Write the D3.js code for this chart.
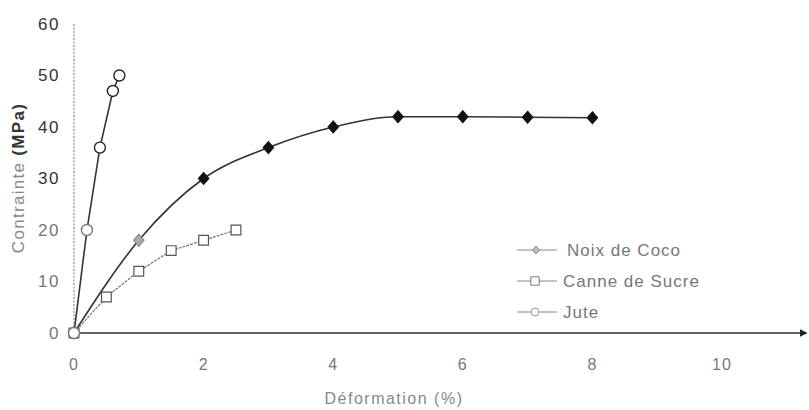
<!DOCTYPE html>
<html>
<head>
<meta charset="utf-8">
<script src="https://cdn.jsdelivr.net/npm/d3@7"></script>
<style>
    body { margin: 0; background: white; }
    text { font-family: "Liberation Sans", Arial, sans-serif; fill: #555; }
</style>
</head>
<body>
<svg id="chart" width="809" height="410"></svg>
<script>
// data
const cocoX = [0, 1, 2, 3, 4, 5, 6, 7, 8];
const cocoY = [0, 18, 30, 36, 40, 42, 42, 41.9, 41.8];
const canneX = [0, 0.5, 1, 1.5, 2, 2.5];
const canneY = [0, 7, 12, 16, 18, 20];
const juteX = [0, 0.2, 0.4, 0.6, 0.7];
const juteY = [0, 20, 36, 47, 50];
const xTicks = [0, 2, 4, 6, 8, 10];
const yTicks = [0, 10, 20, 30, 40, 50, 60];
const seriesNames = ["Noix de Coco", "Canne de Sucre", "Jute"];

const svgSpace = d3.select("#chart");

const x = d3.scaleLinear().domain([0, 10]).range([74, 722]);
const y = d3.scaleLinear().domain([0, 60]).range([333, 24]);
const xEnd = 11.3;

const toPoints = (xs, ys) => xs.map((v, i) => [v, ys[i]]);
const coco = toPoints(cocoX, cocoY),
    canne = toPoints(canneX, canneY),
    jute = toPoints(juteX, juteY);

const diamondType = d3.symbolDiamond2 || d3.symbolDiamond;

// arrow head for x axis
svgSpace.append("defs")
    .append("marker")
    .attr("id", "arrow")
    .attr("viewBox", "0 0 6 6")
    .attr("refX", 5)
    .attr("refY", 3)
    .attr("markerWidth", 5)
    .attr("markerHeight", 5)
    .attr("orient", "auto")
    .append("path")
    .attr("d", "M0,0 L6,3 L0,6 Z")
    .attr("fill", "#222");

// y axis (dotted, no ticks drawn on it)
svgSpace.append("line")
    .attr("x1", x(0)).attr("x2", x(0))
    .attr("y1", y(60)).attr("y2", y(0))
    .attr("stroke", "#777")
    .attr("stroke-width", 1)
    .attr("stroke-dasharray", "2,1.5");

svgSpace.append("g")
    .selectAll("text")
    .data(yTicks)
    .enter()
    .append("text")
    .text((d) => d)
    .attr("x", 60)
    .attr("y", (d) => y(d))
    .attr("dy", "0.35em")
    .style("text-anchor", "end")
    .style("font-size", "17px")
    .style("letter-spacing", "1.5px")
    .style("fill", (d) => d >= 30 ? "#333" : "#777");

// x axis
svgSpace.append("line")
    .attr("x1", x(0)).attr("x2", x(xEnd))
    .attr("y1", y(0)).attr("y2", y(0))
    .attr("stroke", "#333")
    .attr("stroke-width", 1.5)
    .attr("marker-end", "url(#arrow)");

svgSpace.append("g")
    .selectAll("text")
    .data(xTicks)
    .enter()
    .append("text")
    .text((d) => d)
    .attr("x", (d) => x(d))
    .attr("y", 364)
    .attr("dy", "0.35em")
    .style("text-anchor", "middle")
    .style("font-size", "16px")
    .style("letter-spacing", "1px")
    .style("fill", "#777");

// axis titles
svgSpace.append("text")
    .text("Déformation (%)")
    .attr("x", 394)
    .attr("y", 404)
    .style("text-anchor", "middle")
    .style("font-size", "16px")
    .style("letter-spacing", "1.5px")
    .style("fill", "#888");

const yTitle = svgSpace.append("text")
    .attr("transform", "translate(24,178) rotate(-90)")
    .style("text-anchor", "middle")
    .style("font-size", "17px")
    .style("letter-spacing", "1.3px");
yTitle.append("tspan").text("Contrainte ").style("fill", "#888");
yTitle.append("tspan").text("(MPa)").style("font-weight", "bold").style("fill", "#333");

// series lines
const lineStraight = d3.line().x((d) => x(d[0])).y((d) => y(d[1]));
const lineSmooth = d3.line().x((d) => x(d[0])).y((d) => y(d[1])).curve(d3.curveMonotoneX);

svgSpace.append("path")
    .attr("d", lineSmooth(coco))
    .attr("fill", "none")
    .attr("stroke", "#333")
    .attr("stroke-width", 1.6);

svgSpace.append("path")
    .attr("d", lineStraight(canne))
    .attr("fill", "none")
    .attr("stroke", "#777")
    .attr("stroke-width", 1.2)
    .attr("stroke-dasharray", "3,1");

svgSpace.append("path")
    .attr("d", lineStraight(jute))
    .attr("fill", "none")
    .attr("stroke", "#333")
    .attr("stroke-width", 1.6);

// markers
const diamond = d3.symbol().type(diamondType).size(70);
const square = d3.symbol().type(d3.symbolSquare).size(95);

svgSpace.append("g")
    .selectAll("path")
    .data(coco)
    .enter()
    .append("path")
    .attr("d", diamond)
    .attr("transform", (d) => "translate(" + x(d[0]) + "," + y(d[1]) + ") scale(1,1.15)")
    .attr("fill", (d) => d[0] <= 1 ? "#aaa" : "#111")
    .attr("stroke", (d) => d[0] <= 1 ? "#888" : "#111");

svgSpace.append("g")
    .selectAll("path")
    .data(canne)
    .enter()
    .append("path")
    .attr("d", square)
    .attr("transform", (d) => "translate(" + x(d[0]) + "," + y(d[1]) + ")")
    .attr("fill", "white")
    .attr("stroke", "#555")
    .attr("stroke-width", 1.2);

svgSpace.append("g")
    .selectAll("circle")
    .data(jute)
    .enter()
    .append("circle")
    .attr("cx", (d) => x(d[0]))
    .attr("cy", (d) => y(d[1]))
    .attr("r", 5.5)
    .attr("fill", "white")
    .attr("stroke", (d) => d[1] >= 30 ? "#222" : "#777")
    .attr("stroke-width", 1.4);

// legend
const legend = svgSpace.append("g")
    .selectAll("g")
    .data(seriesNames)
    .enter()
    .append("g")
    .attr("transform", (d, i) => "translate(517," + (250 + i * 31) + ")");

legend.append("line")
    .attr("x1", 0).attr("x2", 40)
    .attr("y1", 0).attr("y2", 0)
    .attr("stroke", "#888")
    .attr("stroke-width", 1);

legend.each(function (d, i) {
    const g = d3.select(this);
    if (i === 0) {
        g.append("path")
            .attr("d", d3.symbol().type(diamondType).size(40))
            .attr("transform", "translate(19,0)")
            .attr("fill", "#bbb")
            .attr("stroke", "#999");
    } else if (i === 1) {
        g.append("path")
            .attr("d", d3.symbol().type(d3.symbolSquare).size(70))
            .attr("transform", "translate(18,0)")
            .attr("fill", "white")
            .attr("stroke", "#777");
    } else {
        g.append("circle")
            .attr("cx", 18).attr("cy", 0).attr("r", 4)
            .attr("fill", "white")
            .attr("stroke", "#999");
    }
});

legend.append("text")
    .text((d) => d)
    .attr("x", (d, i) => i === 0 ? 50 : 46)
    .attr("y", 0)
    .attr("dy", "0.35em")
    .style("font-size", "17px")
    .style("letter-spacing", "1px")
    .style("fill", "#777");
</script>
</body>
</html>
